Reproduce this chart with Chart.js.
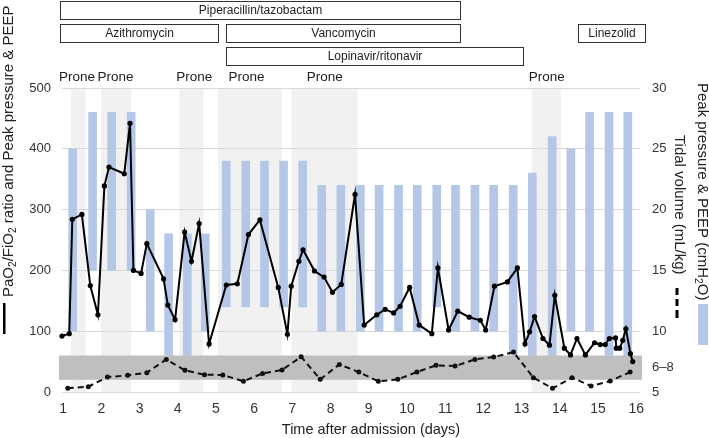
<!DOCTYPE html>
<html><head><meta charset="utf-8">
<script src="https://cdn.jsdelivr.net/npm/chart.js@4"></script>
<style>html,body{margin:0;padding:0;background:#fff;} #wrap{width:709px;height:438px;position:relative;}</style>
</head><body><div id="wrap"><canvas id="c" width="709" height="438"></canvas></div>
<script>
// ---------- DATA ----------
const dayTicks = [1,2,3,4,5,6,7,8,9,10,11,12,13,14,15,16];
const leftTicks = [0,100,200,300,400,500];
const rightTickValues = [5,7,10,15,20,25,30];
const rightTickLabels = ['5','6\u20138','10','15','20','25','30'];

// PaO2/FiO2 ratio (solid line)
const pfDays = [0.97,1.16,1.24,1.49,1.71,1.91,2.08,2.20,2.60,2.75,2.84,3.04,3.19,3.63,3.74,3.93,4.18,4.36,4.56,4.82,
  5.27,5.56,5.85,6.15,6.63,6.87,6.97,7.17,7.28,7.58,7.83,8.05,8.28,8.64,8.88,9.21,9.43,9.65,9.82,10.07,
  10.32,10.65,10.81,11.09,11.33,11.63,11.92,12.06,12.29,12.63,12.89,13.09,13.21,13.34,13.56,13.73,13.87,14.12,14.28,14.45,
  14.67,14.91,15.06,15.19,15.30,15.46,15.48,15.57,15.65,15.73,15.85,15.91];
const pfRatio = [92,96,284,292,175,127,339,370,359,442,200,195,244,186,143,119,263,215,277,79,
  176,178,259,283,172,95,174,215,234,199,189,164,177,325,110,127,136,130,141,172,
  110,96,204,102,133,123,118,102,174,181,204,79,99,124,88,77,159,72,61,88,
  61,81,78,78,88,89,72,72,85,104,63,50];

// Tidal volume (dashed line, right axis)
const tvDays = [1.12,1.66,2.16,2.69,3.19,3.70,4.19,4.70,5.18,5.72,6.22,6.73,7.23,7.73,8.23,8.74,9.25,9.76,10.26,10.76,
  11.26,11.78,12.27,12.79,13.31,13.81,14.32,14.82,15.32,15.84];
const tidalVolume = [5.3,5.44,6.23,6.37,6.59,7.68,6.78,6.42,6.4,5.88,6.53,6.81,7.9,6.04,7.27,6.64,5.88,6.04,6.64,7.19,
  7.13,7.68,7.87,8.28,6.18,5.3,6.18,5.49,5.9,6.64];

// Peak pressure & PEEP (floating bars, right axis)
const ventDays = [1.25,1.77,2.27,2.78,3.28,3.76,4.25,4.72,5.27,5.78,6.27,6.77,7.27,7.77,8.27,8.78,9.27,9.78,10.27,10.78,
  11.27,11.78,12.27,12.78,13.28,13.80,14.29,14.78,15.29,15.78];
const peakPressure = [25,28,28,28,20,18,18,18,24,24,24,24,24,22,22,22,22,22,22,22,22,22,22,22,23,26,25,28,28,28];
const peep = [10,15,15,15,10,8,8,10,12,12,12,12,12,10,10,10,10,10,10,12,10,10,10,8,8,8,10,10,8,8];

// Target tidal volume band
const bandLow = 6, bandHigh = 8;

// Prone periods
const proneStart = [1.21,1.99,4.04,5.05,6.98,13.27];
const proneEnd   = [1.59,2.78,4.67,6.73,8.71,14.03];
const proneLabelDay = [1.36,2.37,4.43,5.80,7.85,13.66];

// Drugs
const drugNames = ['Piperacillin/tazobactam','Azithromycin','Vancomycin','Lopinavir/ritonavir','Linezolid'];
const drugStart = [0.92,0.92,5.27,5.27,14.48];
const drugEnd   = [11.39,5.06,11.39,13.05,16.23];
const drugRow   = [0,1,1,2,1];

// ---------- STYLE ----------
const FONT = '"Liberation Sans", Arial, Helvetica, sans-serif';
const BAR_COLOR = 'rgb(180,199,231)';
const TEXT = '#222';

function drawRich(ctx, parts, x, y, size, align) {
  let total = 0;
  parts.forEach(p => { ctx.font = (p.sub ? size*0.68 : size) + 'px ' + FONT; p.w = ctx.measureText(p.t).width; total += p.w; });
  let cx = align === 'center' ? x - total/2 : x;
  ctx.textAlign = 'left';
  ctx.textBaseline = 'middle';
  parts.forEach(p => {
    ctx.font = (p.sub ? size*0.68 : size) + 'px ' + FONT;
    ctx.fillText(p.t, cx, y + (p.sub ? size*0.3 : 0));
    cx += p.w;
  });
}

const decor = {
  id: 'decor',
  beforeDraw(chart) {
    const ctx = chart.ctx, xs = chart.scales.x, a = chart.chartArea;
    ctx.save();
    ctx.fillStyle = '#f1f1f1';
    for (let i = 0; i < proneStart.length; i++) {
      const x1 = xs.getPixelForValue(proneStart[i]), x2 = xs.getPixelForValue(proneEnd[i]);
      ctx.fillRect(x1, a.top, x2 - x1, a.bottom - a.top);
    }
    ctx.restore();
  },
  afterDatasetDraw(chart, args) {
    if (args.meta.type !== 'bar') return;
    const ctx = chart.ctx, ys = chart.scales.y2, a = chart.chartArea;
    const y1 = ys.getPixelForValue(bandHigh), y2 = ys.getPixelForValue(bandLow);
    ctx.save();
    ctx.fillStyle = '#bfbfbf';
    ctx.fillRect(a.left - 3, y1, a.right - a.left + 5, y2 - y1);
    ctx.restore();
  },
  afterDraw(chart) {
    const ctx = chart.ctx, xs = chart.scales.x;
    ctx.save();
    // drug boxes
    const rowTop = [1.5, 24.5, 47.5], boxH = 18;
    ctx.lineWidth = 1;
    ctx.strokeStyle = '#333';
    for (let i = 0; i < drugNames.length; i++) {
      const x1 = Math.round(xs.getPixelForValue(drugStart[i])) + 0.5;
      const x2 = Math.round(xs.getPixelForValue(drugEnd[i])) + 0.5;
      const y = rowTop[drugRow[i]];
      ctx.fillStyle = '#fff';
      ctx.fillRect(x1, y, x2 - x1, boxH);
      ctx.strokeRect(x1, y, x2 - x1, boxH);
      ctx.fillStyle = TEXT;
      ctx.font = '12px ' + FONT;
      ctx.textAlign = 'center';
      ctx.textBaseline = 'middle';
      ctx.fillText(drugNames[i], (x1 + x2) / 2, y + boxH / 2 + 0.5);
    }
    // prone labels
    ctx.font = '13.5px ' + FONT;
    ctx.fillStyle = TEXT;
    ctx.textAlign = 'center';
    ctx.textBaseline = 'middle';
    proneLabelDay.forEach(d => ctx.fillText('Prone', xs.getPixelForValue(d), 77));
    // x title
    ctx.font = '14.5px ' + FONT;
    ctx.fillText('Time after admission (days)', 371, 430);
    // left title
    ctx.save();
    ctx.translate(9, 297);
    ctx.rotate(-Math.PI / 2);
    drawRich(ctx, [{t:'PaO'},{t:'2',sub:true},{t:'/FiO'},{t:'2',sub:true},{t:' ratio and Peak pressure & PEEP'}], 0, 0, 15, 'left');
    ctx.restore();
    ctx.fillStyle = '#000';
    ctx.fillRect(3, 303, 2.5, 31);
    // right titles
    ctx.fillStyle = TEXT;
    ctx.save();
    ctx.translate(702.5, 83);
    ctx.rotate(Math.PI / 2);
    drawRich(ctx, [{t:'Peak pressure & PEEP (cmH'},{t:'2',sub:true},{t:'O)'}], 0, 0, 15, 'left');
    ctx.restore();
    ctx.save();
    ctx.translate(679, 135);
    ctx.rotate(Math.PI / 2);
    drawRich(ctx, [{t:'Tidal volume (mL/kg)'}], 0, 0, 15, 'left');
    ctx.restore();
    ctx.fillStyle = '#000';
    ctx.fillRect(675.5, 288, 3, 7);
    ctx.fillRect(675.5, 299, 3, 7);
    ctx.fillRect(675.5, 310, 3, 8);
    ctx.fillStyle = BAR_COLOR;
    ctx.fillRect(698, 304, 10, 41);
    ctx.restore();
  }
};

const ctx = document.getElementById('c').getContext('2d');
new Chart(ctx, {
  type: 'bar',
  data: {
    datasets: [
      {
        type: 'bar',
        label: 'Peak pressure & PEEP',
        data: ventDays.map((d, i) => ({x: d, y: [peep[i], peakPressure[i]]})),
        backgroundColor: BAR_COLOR,
        borderWidth: 0,
        barThickness: 8,
        grouped: false,
        xAxisID: 'x', yAxisID: 'y2',
        order: 3
      },
      {
        type: 'line',
        label: 'Tidal volume',
        data: tvDays.map((d, i) => ({x: d, y: tidalVolume[i]})),
        borderColor: '#111',
        backgroundColor: '#111',
        borderWidth: 2,
        borderDash: [6, 4],
        pointRadius: 2.5,
        pointBorderWidth: 0,
        tension: 0,
        fill: false,
        clip: false,
        xAxisID: 'x', yAxisID: 'y2',
        order: 2
      },
      {
        type: 'line',
        label: 'PaO2/FiO2',
        data: pfDays.map((d, i) => ({x: d, y: pfRatio[i]})),
        borderColor: '#000',
        backgroundColor: '#000',
        borderWidth: 2,
        pointRadius: 2.6,
        pointBorderWidth: 0,
        tension: 0,
        fill: false,
        clip: false,
        xAxisID: 'x', yAxisID: 'y',
        order: 1
      }
    ]
  },
  options: {
    responsive: false,
    animation: false,
    devicePixelRatio: 1,
    layout: {padding: {top: 88, left: 0, right: 0, bottom: 0}},
    plugins: {legend: {display: false}, tooltip: {enabled: false}},
    scales: {
      x: {
        type: 'linear', position: 'bottom', min: 0.97, max: 16.1, offset: false,
        grid: {display: false, drawTicks: false}, border: {display: false},
        afterBuildTicks: s => { s.ticks = dayTicks.map(v => ({value: v})); },
        ticks: {color: '#333', font: {size: 14, family: FONT}, padding: 9, maxRotation: 0, autoSkip: false},
        afterFit: s => { s.height = 46; }
      },
      y: {
        type: 'linear', position: 'left', min: 0, max: 500,
        afterBuildTicks: s => { s.ticks = leftTicks.map(v => ({value: v})); },
        grid: {color: '#d9d9d9', lineWidth: 1, drawTicks: false}, border: {display: false},
        ticks: {color: '#333', font: {size: 13, family: FONT}, padding: 11},
        afterFit: s => { s.width = 62; }
      },
      y2: {
        type: 'linear', position: 'right', min: 5, max: 30,
        afterBuildTicks: s => { s.ticks = rightTickValues.map(v => ({value: v})); },
        grid: {display: false, drawTicks: false}, border: {display: false},
        ticks: {color: '#333', font: {size: 13, family: FONT}, padding: 12,
          callback: v => rightTickLabels[rightTickValues.indexOf(v)]},
        afterFit: s => { s.width = 69; }
      }
    }
  },
  plugins: [decor]
});
</script>
</body></html>
